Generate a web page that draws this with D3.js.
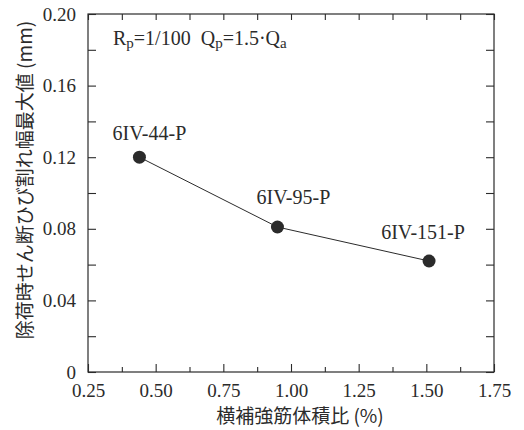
<!DOCTYPE html>
<html>
<head>
<meta charset="utf-8">
<title>chart</title>
<script src="https://d3js.org/d3.v7.min.js"></script>
</head>
<body style="margin:0;background:#fff">
<div id="chart"></div>
<script>
"use strict";

// 横補強筋体積比 (%) と ひび割れ幅 (mm)
const ratio = [0.44, 0.95, 1.51];
const crackWidth = [0.120, 0.081, 0.062];
const specimens = ["6IV-44-P", "6IV-95-P", "6IV-151-P"];

const xTicks = [0.25, 0.50, 0.75, 1.00, 1.25, 1.50, 1.75];
const xMinor = [0.375, 0.625, 0.875, 1.125, 1.375, 1.625];
const yTicks = [0, 0.04, 0.08, 0.12, 0.16, 0.20];
const yMinor = [0.02, 0.06, 0.10, 0.14, 0.18];

const W = 524, H = 430;
const margin = {top: 14, right: 30, bottom: 58, left: 88};
const w = W - margin.left - margin.right,
      h = H - margin.top - margin.bottom;
const ink = "#2b2b2b";
const serifStyle = px => "font-family:'Liberation Serif';font-size:" + px + "px;fill:" + ink;
const jpStyle = px => "font-family:'Noto Sans CJK JP';font-size:" + px + "px;fill:" + ink;

const svg = d3.select("#chart").append("svg")
    .attr("width", W).attr("height", H);
const g = svg.append("g")
    .attr("transform", "translate(" + margin.left + "," + margin.top + ")");

const x = d3.scaleLinear().domain([0.25, 1.75]).range([0, w]);
const y = d3.scaleLinear().domain([0, 0.20]).range([h, 0]);

// 枠
g.append("rect").attr("width", w).attr("height", h)
    .attr("fill", "none").attr("stroke", ink).attr("stroke-width", 1.2);

// 目盛り (内向き)
function ticks(axis, vals, fmt, len) {
  return axis.tickValues(vals).tickSizeInner(-len).tickSizeOuter(0).tickFormat(fmt);
}
const fmtX = d3.format(".2f");
const fmtY = d => d === 0 ? "0" : d3.format(".2f")(d);

const bx = g.append("g").attr("transform", "translate(0," + h + ")")
    .call(ticks(d3.axisBottom(x), xTicks, fmtX, 8));
bx.selectAll("text").attr("y", 12).attr("dy", "0.71em");
g.append("g").attr("transform", "translate(0," + h + ")")
    .call(ticks(d3.axisBottom(x), xMinor, "", 5));
g.append("g").call(ticks(d3.axisTop(x), xTicks.concat(xMinor), "", 6));

const ly = g.append("g").call(ticks(d3.axisLeft(y), yTicks, fmtY, 8));
ly.selectAll("text").attr("x", -12);
g.append("g").call(ticks(d3.axisLeft(y), yMinor, "", 8));
g.append("g").attr("transform", "translate(" + w + ",0)")
    .call(ticks(d3.axisRight(y), yTicks.concat(yMinor), "", 8));

g.selectAll(".domain").remove();
g.selectAll("g").attr("font-family", null).attr("font-size", null);
g.selectAll(".tick line").attr("stroke", ink).attr("stroke-width", 1.1);
g.selectAll(".tick text").attr("fill", null).attr("style", serifStyle(19));

// 折れ線と点
const pts = ratio.map((r, i) => ({x: r, y: crackWidth[i], name: specimens[i]}));
g.append("path").datum(pts)
    .attr("fill", "none").attr("stroke", ink).attr("stroke-width", 1)
    .attr("d", d3.line().x(d => x(d.x)).y(d => y(d.y)));
g.selectAll("circle.pt").data(pts).enter().append("circle")
    .attr("cx", d => x(d.x)).attr("cy", d => y(d.y))
    .attr("r", 6.5).attr("fill", ink);

// 試験体名
const labelOff = [[10, -17], [16, -23], [-6, -22]];
g.selectAll("text.lbl").data(pts).enter().append("text")
    .attr("x", (d, i) => x(d.x) + labelOff[i][0])
    .attr("y", (d, i) => y(d.y) + labelOff[i][1])
    .attr("text-anchor", "middle")
    .attr("style", serifStyle(20))
    .text(d => d.name);

// 条件
const note = g.append("text").attr("x", 25).attr("y", 31)
    .attr("style", serifStyle(20) + ";white-space:pre");
note.append("tspan").text("R");
note.append("tspan").attr("style", "font-size:15px").attr("dy", 3).text("p");
note.append("tspan").attr("dy", -3).text("=1/100  Q");
note.append("tspan").attr("style", "font-size:15px").attr("dy", 3).text("p");
note.append("tspan").attr("dy", -3).text("=1.5\u00b7Q");
note.append("tspan").attr("style", "font-size:15px").attr("dy", 3).text("a");

// 軸ラベル
svg.append("text")
    .attr("transform", "translate(32,180) rotate(-90)")
    .attr("text-anchor", "middle").attr("style", jpStyle(19))
    .text("除荷時せん断ひび割れ幅最大値 (mm)");
svg.append("text")
    .attr("x", 300).attr("y", 423)
    .attr("text-anchor", "middle").attr("style", jpStyle(19))
    .text("横補強筋体積比 (%)");
</script>
</body>
</html>
